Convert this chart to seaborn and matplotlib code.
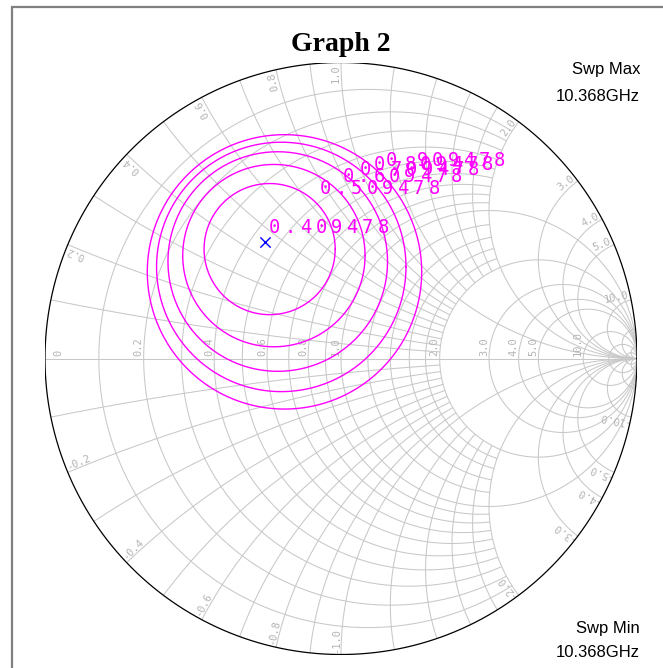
import numpy as np
import pandas as pd
import matplotlib
matplotlib.use("Agg")
import matplotlib.pyplot as plt
import seaborn as sns
from matplotlib.transforms import offset_copy
from matplotlib.patches import Rectangle

# Noise-figure circles (dB) in the reflection-coefficient plane
nf_levels = [0.409478, 0.509478, 0.609478, 0.709478, 0.809478, 0.909478]
center_re = [-0.257, -0.2411, -0.2267, -0.2137, -0.2018, -0.1909]
center_im = [0.394, 0.3696, 0.3476, 0.3276, 0.3094, 0.2927]
radius = [0.0, 0.2215, 0.3080, 0.3709, 0.4213, 0.4635]
gamma_opt = (-0.257, 0.394)

# Smith chart grid values and the extent of each line (None = complete)
r_values = [0.1, 0.2, 0.3, 0.4, 0.5, 0.6, 0.7, 0.8, 0.9, 1.0,
            1.2, 1.4, 1.6, 1.8, 2.0, 3.0, 4.0, 5.0, 10.0, 20.0, 50.0]
r_extent = [2.0] * 9 + [None] + [2.0] * 4 + [None] * 7
x_values = [0.1, 0.2, 0.3, 0.4, 0.5, 0.6, 0.7, 0.8, 0.9, 1.0,
            1.2, 1.4, 1.6, 1.8, 2.0, 3.0, 4.0, 5.0, 10.0, 20.0, 50.0]
x_extent = [2.0] * 9 + [None] + [2.0] * 4 + [None] * 7
axis_labels = ["0", "0.2", "0.4", "0.6", "0.8", "1.0", "2.0", "3.0", "4.0", "5.0", "10.0"]
edge_labels = ["0.2", "0.4", "0.6", "0.8", "1.0", "2.0", "3.0", "4.0", "5.0", "10.0"]

W, H, DPI = 663, 668, 100
CX, CY, RAD = 341.0, 358.5, 296.0   # chart centre and radius in pixels
GRID = "#c8c8c8"
LBL = "#b4b4b4"
MAG = "#ff00ff"

sns.set_theme(style="white")
plt.rcParams["font.family"] = ["DejaVu Sans"]
plt.rcParams["text.color"] = "black"

fig = plt.figure(figsize=(W / DPI, H / DPI), dpi=DPI)
fig.patch.set_facecolor("white")
ax = fig.add_axes([(CX - RAD) / W, (H - CY - RAD) / H, 2 * RAD / W, 2 * RAD / H])
ax.set_xlim(-1, 1)
ax.set_ylim(-1, 1)
ax.set_aspect("equal")
ax.axis("off")


def resistance_circle(r, xmax):
    c, R = r / (1 + r), 1 / (1 + r)
    if xmax is None:
        phi = np.linspace(0, 2 * np.pi, 720)
    else:
        g = (r - 1 + 1j * xmax) / (r + 1 + 1j * xmax)
        pe = np.angle(g - c)
        phi = np.linspace(pe, 2 * np.pi - pe, 600)
    return c + R * np.cos(phi), R * np.sin(phi)


def reactance_arc(x, rmax):
    a = abs(x)
    cen = 1 + 1j / a
    g0 = (-1 + 1j * a) / (1 + 1j * a)
    p0 = np.mod(np.angle(g0 - cen), 2 * np.pi)
    if rmax is None:
        p1 = 1.5 * np.pi
    else:
        g1 = (rmax - 1 + 1j * a) / (rmax + 1 + 1j * a)
        p1 = np.mod(np.angle(g1 - cen), 2 * np.pi)
    psi = np.linspace(p0, p1, 600)
    pts = cen + np.exp(1j * psi) / a
    return pts.real, np.sign(x) * pts.imag


grid_kw = dict(color=GRID, lw=0.75, zorder=1, solid_capstyle="butt")
for r, lim in zip(r_values, r_extent):
    gx, gy = resistance_circle(r, lim)
    ax.plot(gx, gy, **grid_kw)
for xv, lim in zip(x_values, x_extent):
    for s in (1, -1):
        gx, gy = reactance_arc(s * xv, lim)
        ax.plot(gx, gy, **grid_kw)
ax.plot([-1, 1], [0, 0], **grid_kw)

# outer boundary
t = np.linspace(0, 2 * np.pi, 1000)
ax.plot(np.cos(t), np.sin(t), color="black", lw=0.9, zorder=3)

# grid labels
mono = "DejaVu Sans Mono"
lab_kw = dict(color=LBL, fontsize=7.5, family=mono, rotation_mode="anchor", zorder=2)
for s in axis_labels:
    r = float(s)
    g = (r - 1) / (r + 1)
    if r == 0:
        tr = offset_copy(ax.transData, fig=fig, x=8, y=3, units="dots")
        ax.text(g, 0, s, rotation=90, ha="left", va="top", transform=tr, **lab_kw)
    else:
        tr = offset_copy(ax.transData, fig=fig, x=0, y=3, units="dots")
        ax.text(g, 0, s, rotation=90, ha="left", va="bottom", transform=tr, **lab_kw)

for s in edge_labels:
    xv = float(s)
    th = np.pi - 2 * np.arctan(xv)
    rr = 0.995
    ax.text(rr * np.cos(th), rr * np.sin(th), s, rotation=np.degrees(th),
            ha="right", va="bottom", **lab_kw)
    ax.text(rr * np.cos(-th), rr * np.sin(-th), "-" + s, rotation=np.degrees(-th) + 180,
            ha="left", va="bottom", **lab_kw)

# noise-figure circles
rows = []
phi = np.linspace(0, 2 * np.pi, 361)
for lvl, cx, cy, rad in zip(nf_levels, center_re, center_im, radius):
    if rad <= 0:
        continue
    for p in phi:
        rows.append({"re": cx + rad * np.cos(p), "im": cy + rad * np.sin(p), "nf": lvl})
df = pd.DataFrame(rows)
levels = sorted(df["nf"].unique())
sns.lineplot(data=df, x="re", y="im", hue="nf", palette={l: MAG for l in levels},
             sort=False, estimator=None, legend=False, lw=1.0, ax=ax, zorder=4)

# circle labels, character spaced
step = 15.5
for lvl, cx, cy, rad in zip(nf_levels, center_re, center_im, radius):
    lx = cx + rad * np.cos(np.pi / 4)
    ly = cy + rad * np.sin(np.pi / 4)
    txt = f"{lvl:.6f}"
    for i, ch in enumerate(txt):
        tr = offset_copy(ax.transData, fig=fig, x=4 + i * step, y=5, units="dots")
        ax.text(lx, ly, ch, transform=tr, ha="left", va="bottom", color=MAG,
                fontsize=13.5, family=mono, zorder=5)

# optimum source reflection marker
sns.scatterplot(x=[gamma_opt[0]], y=[gamma_opt[1]], marker="x", color="#0000ff",
                s=55, linewidth=1.0, ax=ax, zorder=6)
ax.set_xlabel("")
ax.set_ylabel("")
ax.set_xlim(-1, 1)
ax.set_ylim(-1, 1)

# frame, title and sweep annotations
fig.patches.append(Rectangle((12 / W, -0.05), 1.2, (H - 7) / H + 0.05,
                             transform=fig.transFigure, fill=False,
                             edgecolor="#808080", lw=1.6, zorder=0))
fig.text(341 / W, 1 - 51 / H, "Graph 2", ha="center", va="baseline", color="black",
         fontsize=20, fontweight="bold", family="Liberation Serif")
side_kw = dict(ha="right", va="baseline", fontsize=12, family="Liberation Sans", color="black")
fig.text(640 / W, 1 - 74 / H, "Swp Max", **side_kw)
fig.text(640 / W, 1 - 101 / H, "10.368GHz", **side_kw)
fig.text(640 / W, 1 - 633 / H, "Swp Min", **side_kw)
fig.text(640 / W, 1 - 657 / H, "10.368GHz", **side_kw)

fig.savefig("out.png", dpi=DPI)
